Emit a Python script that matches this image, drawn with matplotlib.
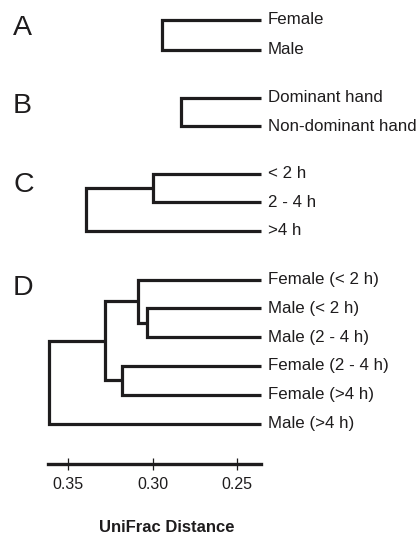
import matplotlib.pyplot as plt

plt.rcParams['font.family'] = ['Liberation Sans', 'DejaVu Sans']

# leaves in drawing order, and trees as (left, right, merge distance)
panel_letters = ['A', 'B', 'C', 'D']
leaf_end = 0.2355

tree_a = ('Female', 'Male', 0.2943)
tree_b = ('Dominant hand', 'Non-dominant hand', 0.2832)
tree_c = (('< 2 h', '2 - 4 h', 0.3000), '>4 h', 0.3396)
tree_d = (((('Female (< 2 h)', ('Male (< 2 h)', 'Male (2 - 4 h)', 0.3036), 0.3085)),
           ('Female (2 - 4 h)', 'Female (>4 h)', 0.3180), 0.3283),
          'Male (>4 h)', 0.3613)
trees = [tree_a, tree_b, tree_c, tree_d]

scale_ticks = [0.35, 0.30, 0.25]
scale_range = (0.3622, 0.2355)

# layout (pixel rows, figure is 419 x 535)
panel_top = [20, 97.5, 173.5, 279.5]
row_step = [30, 28.7, 28.7, 28.8]
letter_y = [28, 106, 185, 288]
W, H = 419, 535
LW = 2.3
INK = '#1e1c1d'


def draw(ax, node, rows):
    # returns (x, y) of the node, leaves take the next row
    if isinstance(node, str):
        y = rows.pop(0)
        ax.annotate(node, (leaf_end, y), xytext=(4.5, 0), textcoords='offset points',
                    va='center', ha='left', fontsize=12.2, color=INK)
        return leaf_end, y
    left, right, h = node
    x1, y1 = draw(ax, left, rows)
    x2, y2 = draw(ax, right, rows)
    ax.plot([x1, h, h, x2], [y1, y1, y2, y2], color=INK, lw=LW,
            solid_joinstyle='miter', solid_capstyle='butt')
    return h, (y1 + y2) / 2


def count_leaves(node):
    if isinstance(node, str):
        return 1
    return count_leaves(node[0]) + count_leaves(node[1])


fig = plt.figure(figsize=(W / 100, H / 100), dpi=100)
ax = fig.add_axes([0, 0, 1, 1])
# x: 0.35 at 68.3 px, 0.05 per 84.3 px
px_per = 84.3 / 0.05
x_left = 0.35 + 68.3 / px_per
x_right = 0.35 - (W - 68.3) / px_per
ax.set_xlim(x_left, x_right)
ax.set_ylim(H, 0)
ax.axis('off')

for tree, top, step, letter, ly in zip(trees, panel_top, row_step, panel_letters, letter_y):
    n = count_leaves(tree)
    rows = [top + i * step for i in range(n)]
    draw(ax, tree, rows)
    fig.text(13 / W, 1 - ly / H, letter, fontsize=20.5, va='center', ha='left', color=INK)

# scale bar
axis_y = 464.3
ax2 = fig.add_axes([0, 1 - axis_y / H, 1, 0.01])
ax2.set_xlim(x_left, x_right)
ax2.patch.set_visible(False)
for s in ['top', 'left', 'right']:
    ax2.spines[s].set_visible(False)
ax2.spines['bottom'].set_bounds(scale_range[0], scale_range[1])
ax2.spines['bottom'].set_linewidth(2.4)
ax2.spines['bottom'].set_color(INK)
ax2.set_yticks([])
ax2.set_xticks(scale_ticks)
ax2.set_xticklabels(['%.2f' % t for t in scale_ticks])
ax2.tick_params(axis='x', direction='inout', length=8, width=0.9, pad=5.5,
                labelsize=11.5, colors=INK)

fig.text(167 / W, 1 - 527 / H, 'UniFrac Distance', fontsize=12, fontweight='bold',
         ha='center', va='center', color=INK)

fig.savefig('out.png', dpi=100)
